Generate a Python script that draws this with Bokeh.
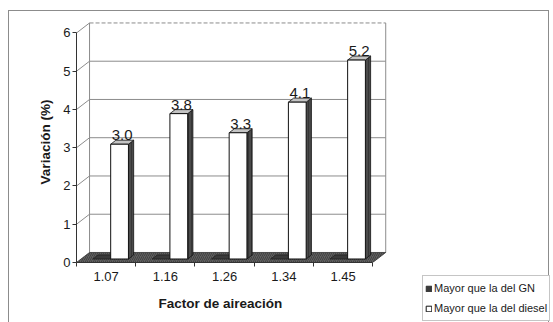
from bokeh.plotting import figure
from bokeh.models import Range1d, FixedTicker, Legend, LegendItem, ColumnDataSource, Title
from bokeh.embed import file_html
from bokeh.resources import INLINE

# ---- data ----
categories = ["1.07", "1.16", "1.26", "1.34", "1.45"]
gn_values = [0.0, 0.0, 0.0, 0.0, 0.0]
diesel_values = [3.0, 3.8, 3.3, 4.1, 5.2]
value_labels = ["3.0", "3.8", "3.3", "4.1", "5.2"]
y_ticks = [0, 1, 2, 3, 4, 5, 6]
series_names = ["Mayor que la del GN", "Mayor que la del diesel"]
x_title = "Factor de aireación"
y_title = "Variación (%)"

# ---- pseudo 3D geometry (data units) ----
N = len(categories)
Y_MAX = y_ticks[-1]
DX, DY = 0.22, 0.262      # depth shift of the back wall
Z0, Z1 = 0.35, 0.75       # depth span of the bars
FONT = "Liberation Sans"
GRID = "#8c8c8c"
BORDER = "#8c8c8c"

# outer chart-area border drawn as CSS background lines behind a transparent canvas
line = f"linear-gradient({BORDER},{BORDER})"
p = figure(width=553, height=322, frame_width=311, frame_height=241,
           output_backend="svg", toolbar_location=None,
           x_range=Range1d(0, N + 0.25), y_range=Range1d(0, Y_MAX + 0.3),
           min_border_left=76, min_border_right=166, min_border_top=21, min_border_bottom=60,
           styles={
               "background-color": "white",
               "background-image": f"{line},{line},{line}",
               "background-repeat": "no-repeat",
               "background-position": "8px 10px, 8px 10px, 548px 10px",
               "background-size": "541px 1px, 1px 312px, 1px 312px",
           })
p.grid.visible = False
p.outline_line_color = None
p.background_fill_color = "white"
p.border_fill_color = None

# walls
p.patches(xs=[[0, 0, DX, DX], [DX, N + DX, N + DX, DX]],
          ys=[[0, Y_MAX, Y_MAX + DY, DY], [DY, DY, Y_MAX + DY, Y_MAX + DY]],
          fill_color="white", line_color=None)

# gridlines on side wall and back wall
gx0, gy0, gx1, gy1 = [], [], [], []
bx0, by0, bx1, by1 = [], [], [], []
for t in y_ticks[1:]:
    gx0.append(0); gy0.append(t); gx1.append(DX); gy1.append(t + DY)
    if t != Y_MAX:
        bx0.append(DX); by0.append(t + DY); bx1.append(N + DX); by1.append(t + DY)
p.segment(gx0, gy0, gx1, gy1, line_color=GRID, line_width=1)
p.segment(bx0, by0, bx1, by1, line_color=GRID, line_width=1)
p.segment([DX], [Y_MAX + DY], [N + DX], [Y_MAX + DY], line_color=GRID, line_width=1, line_dash="4 2")
p.segment([DX, N + DX], [DY, DY], [DX, N + DX], [Y_MAX + DY, Y_MAX + DY], line_color=GRID, line_width=1)

# floor
p.patch([0, N, N + DX, DX], [0, 0, DY, DY], fill_color="#606060", line_color="#333333",
        line_width=0.8, hatch_pattern="/", hatch_color="#2e2e2e", hatch_scale=4, hatch_alpha=0.6)

def faces(values, off_l, off_r):
    front = dict(left=[], right=[], bottom=[], top=[])
    side_xs, side_ys, top_xs, top_ys = [], [], [], []
    for i, v in enumerate(values):
        xl, xr = i + off_l, i + off_r
        front["left"].append(xl + Z0 * DX); front["right"].append(xr + Z0 * DX)
        front["bottom"].append(Z0 * DY); front["top"].append(v + Z0 * DY)
        side_xs.append([xr + Z0 * DX, xr + Z1 * DX, xr + Z1 * DX, xr + Z0 * DX])
        side_ys.append([Z0 * DY, Z1 * DY, v + Z1 * DY, v + Z0 * DY])
        top_xs.append([xl + Z0 * DX, xr + Z0 * DX, xr + Z1 * DX, xl + Z1 * DX])
        top_ys.append([v + Z0 * DY, v + Z0 * DY, v + Z1 * DY, v + Z1 * DY])
    return front, side_xs, side_ys, top_xs, top_ys

# GN series (zero height: only the flat top shows)
gf, gsx, gsy, gtx, gty = faces(gn_values, 0.2, 0.5)
gn_r = p.patches(gtx, gty, fill_color="#3a3a3a", line_color="#222222", line_width=0.8)

# diesel series
df, dsx, dsy, dtx, dty = faces(diesel_values, 0.5, 0.8)
p.patches(dsx, dsy, fill_color="#4a4a4a", line_color="#111111", line_width=0.8,
          hatch_pattern="|", hatch_color="#222222", hatch_scale=3, hatch_alpha=0.5)
p.patches(dtx, dty, fill_color="#c4c4c4", line_color="#111111", line_width=0.8)
diesel_r = p.quad(left=df["left"], right=df["right"], bottom=df["bottom"], top=df["top"],
                  fill_color="white", line_color="#111111", line_width=1)

# value labels
lab_src = ColumnDataSource(dict(
    x=[i + 0.65 + 0.55 * DX for i in range(N)],
    y=[v + Z1 * DY for v in diesel_values],
    t=value_labels))
p.text(x="x", y="y", text="t", source=lab_src, text_align="center", text_baseline="bottom",
       text_font_size="15px", text_color="#1a1a1a", text_font={"value": FONT})

# axes
yax = p.yaxis[0]
yax.ticker = FixedTicker(ticks=y_ticks)
yax.bounds = (0, Y_MAX)
yax.axis_line_color = "#333333"
yax.major_tick_line_color = "#333333"
yax.major_tick_out = 4
yax.major_tick_in = 0
yax.minor_tick_line_color = None
yax.major_label_standoff = 2
yax.major_label_text_font = FONT
yax.major_label_text_font_size = "13px"
yax.major_label_text_color = "#1a1a1a"
yax.axis_label = y_title
yax.axis_label_text_font = FONT
yax.axis_label_text_font_size = "13.5px"
yax.axis_label_text_font_style = "bold"
yax.axis_label_text_color = "#1a1a1a"
yax.axis_label_standoff = 7

xax = p.xaxis[0]
xax.ticker = FixedTicker(ticks=[i + 0.5 for i in range(N)], minor_ticks=list(range(N + 1)))
xax.bounds = (0, N)
xax.major_label_overrides = {i + 0.5: c for i, c in enumerate(categories)}
xax.axis_line_color = "#333333"
xax.major_tick_line_color = None
xax.minor_tick_line_color = "#333333"
xax.minor_tick_out = 4
xax.minor_tick_in = 0
xax.major_label_standoff = 3
xax.major_label_text_font = FONT
xax.major_label_text_font_size = "13px"
xax.major_label_text_color = "#1a1a1a"

# x-axis title, left-aligned with an offset so it is centred like the reference
p.add_layout(Title(text=x_title, align="left", offset=82, standoff=20,
                   text_font=FONT, text_font_size="13.5px", text_font_style="bold",
                   text_color="#1a1a1a"), "below")

# legend (side panel so it is not clipped to the frame)
legend = Legend(items=[LegendItem(label=series_names[0], renderers=[gn_r]),
                       LegendItem(label=series_names[1], renderers=[diesel_r])],
                location=(35, -59), orientation="vertical",
                padding=2, margin=0, spacing=0, glyph_width=7, glyph_height=7,
                label_height=20, label_standoff=2,
                label_text_font=FONT, label_text_font_size="11px", label_text_color="#1a1a1a",
                border_line_color="#8c8c8c", background_fill_color="white", background_fill_alpha=1)
p.add_layout(legend, "right")

open("out.html", "w").write(file_html(p, INLINE))
